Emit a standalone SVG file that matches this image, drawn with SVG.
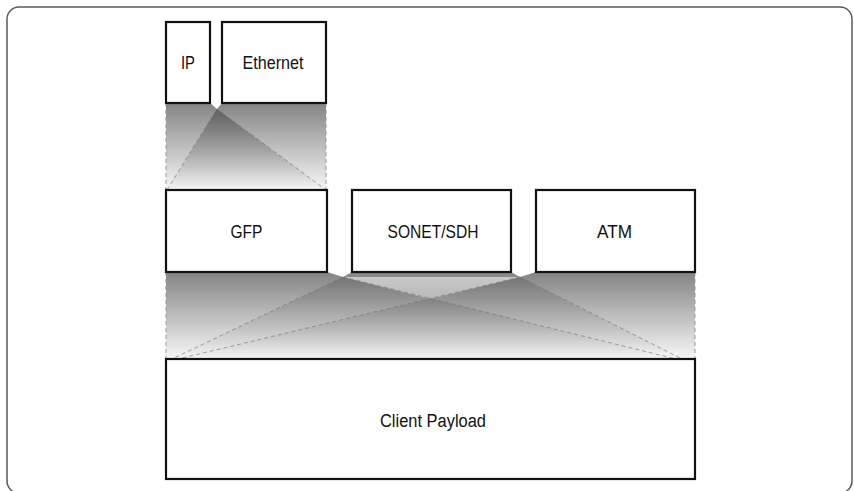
<svg xmlns="http://www.w3.org/2000/svg" width="854" height="491" viewBox="0 0 854 491">
  <defs>
    <linearGradient id="band1" x1="0" y1="103" x2="0" y2="190" gradientUnits="userSpaceOnUse">
      <stop offset="0" stop-color="#848484"/>
      <stop offset="1" stop-color="#f7f7f7"/>
    </linearGradient>
    <linearGradient id="band2" x1="0" y1="272" x2="0" y2="359" gradientUnits="userSpaceOnUse">
      <stop offset="0" stop-color="#848484"/>
      <stop offset="1" stop-color="#f7f7f7"/>
    </linearGradient>
    <linearGradient id="fan1" x1="0" y1="109" x2="0" y2="190" gradientUnits="userSpaceOnUse">
      <stop offset="0" stop-color="#000" stop-opacity="0.32"/>
      <stop offset="1" stop-color="#000" stop-opacity="0"/>
    </linearGradient>
    <linearGradient id="fan2" x1="0" y1="277" x2="0" y2="359" gradientUnits="userSpaceOnUse">
      <stop offset="0" stop-color="#000" stop-opacity="0.16"/>
      <stop offset="1" stop-color="#000" stop-opacity="0"/>
    </linearGradient>
    <linearGradient id="gap" x1="0" y1="277" x2="0" y2="299" gradientUnits="userSpaceOnUse">
      <stop offset="0" stop-color="#c8c8c8"/>
      <stop offset="1" stop-color="#b8b8b8"/>
    </linearGradient>
  </defs>
  <style>
    .frame { fill: #ffffff; stroke: #5a5a5a; stroke-width: 1.5; }
    .box { fill: #ffffff; stroke: #111111; stroke-width: 2.2; }
    .label { font-family: "Liberation Sans", Arial, sans-serif; font-size: 18px; fill: #111111; text-anchor: middle; }
    .guide { fill: none; stroke: #777777; stroke-width: 1; stroke-dasharray: 4 3; stroke-opacity: 0.7; }
    .edge { fill: none; stroke: #999999; stroke-width: 1; stroke-dasharray: 4 3; }
  </style>

  <!-- outer panel -->
  <rect class="frame" x="7" y="7" width="845" height="486" rx="12" ry="12"/>

  <!-- shaded mapping bands -->
  <g id="band-upper">
    <polygon points="166,103 210,103 217,109 222,103 326,103 326,190 166,190" fill="url(#band1)"/>
    <polygon points="217,109 167,190 326,190" fill="url(#fan1)"/>
  </g>
  <g id="band-lower">
    <polygon points="166,272 327,272 343,277 352,272 511,272 520,277 536,272 695,272 695,359 166,359" fill="url(#band2)"/>
    <polygon points="343,277 172,359 676,359" fill="url(#fan2)"/>
    <polygon points="520,277 178,359 682,359" fill="url(#fan2)"/>
    <polygon points="343,277 520,277 430,299" fill="url(#gap)"/>
  </g>

  <!-- connectors -->
  <g id="connectors">
    <line class="edge" x1="166" y1="103" x2="166" y2="190"/>
    <line class="edge" x1="326" y1="103" x2="326" y2="190"/>
    <line class="guide" x1="217" y1="109" x2="167" y2="190"/>
    <line class="guide" x1="217" y1="109" x2="326" y2="190"/>

    <line class="edge" x1="166" y1="272" x2="166" y2="359"/>
    <line class="edge" x1="695" y1="272" x2="695" y2="359"/>
    <line class="guide" x1="343" y1="277" x2="172" y2="359"/>
    <line class="guide" x1="343" y1="277" x2="676" y2="359"/>
    <line class="guide" x1="520" y1="277" x2="178" y2="359"/>
    <line class="guide" x1="520" y1="277" x2="682" y2="359"/>
  </g>

  <!-- layers (labels set in a condensed width) -->
  <g id="ip">
    <rect class="box" x="166" y="22" width="44" height="81"/>
    <text class="label" x="188" y="68.5" textLength="14" lengthAdjust="spacingAndGlyphs">IP</text>
  </g>
  <g id="ethernet">
    <rect class="box" x="222" y="22" width="104" height="81"/>
    <text class="label" x="273" y="68.5" textLength="61" lengthAdjust="spacingAndGlyphs">Ethernet</text>
  </g>
  <g id="gfp">
    <rect class="box" x="166" y="190" width="161" height="82"/>
    <text class="label" x="246.5" y="238" textLength="32" lengthAdjust="spacingAndGlyphs">GFP</text>
  </g>
  <g id="sonet-sdh">
    <rect class="box" x="352" y="190" width="159" height="82"/>
    <text class="label" x="433" y="238" textLength="91" lengthAdjust="spacingAndGlyphs">SONET/SDH</text>
  </g>
  <g id="atm">
    <rect class="box" x="536" y="190" width="159" height="82"/>
    <text class="label" x="614.5" y="238" textLength="35" lengthAdjust="spacingAndGlyphs">ATM</text>
  </g>
  <g id="client-payload">
    <rect class="box" x="166" y="359" width="529" height="120"/>
    <text class="label" x="433" y="426.5" textLength="106" lengthAdjust="spacingAndGlyphs">Client Payload</text>
  </g>
</svg>
